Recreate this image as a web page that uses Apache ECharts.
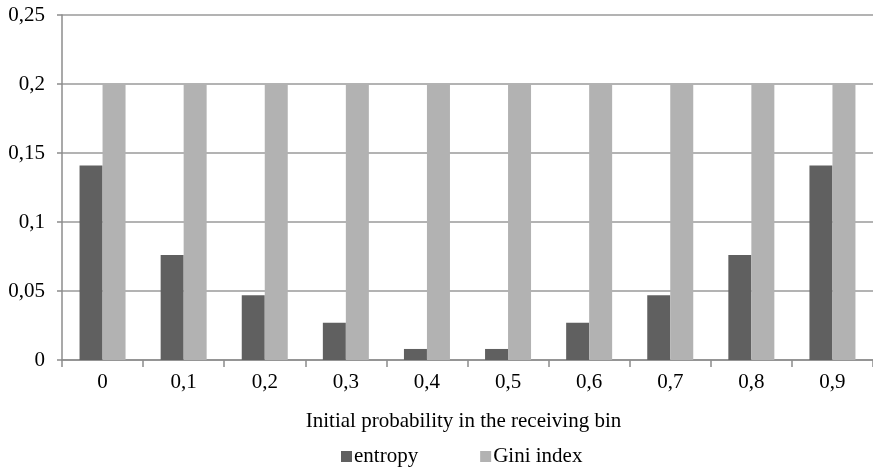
<!DOCTYPE html>
<html>
<head>
<meta charset="utf-8">
<script src="https://cdn.jsdelivr.net/npm/echarts@6/dist/echarts.min.js"></script>
<style>
html, body { margin: 0; padding: 0; background: #fff; }
#chart { width: 873px; height: 469px; }
</style>
</head>
<body>
<div id="chart"></div>
<script>
const categories = ['0', '0,1', '0,2', '0,3', '0,4', '0,5', '0,6', '0,7', '0,8', '0,9'];
const entropy = [0.141, 0.076, 0.047, 0.027, 0.008, 0.008, 0.027, 0.047, 0.076, 0.141];
const gini = [0.2, 0.2, 0.2, 0.2, 0.2, 0.2, 0.2, 0.2, 0.2, 0.2];
const seriesNames = ['entropy', 'Gini index'];
const xAxisTitle = 'Initial probability in the receiving bin';

const FONT = 'Liberation Serif';
const FS = 21;
const chart = echarts.init(document.getElementById('chart'), null, { renderer: 'canvas' });
chart.setOption({
  animation: false,
  backgroundColor: '#ffffff',
  textStyle: { fontFamily: FONT, color: '#000' },
  grid: { left: 62, right: 0, top: 15, bottom: 109, containLabel: false },
  legend: {
    top: 446,
    left: 341,
    padding: 0,
    itemWidth: 11,
    itemHeight: 11,
    itemGap: 62,
    icon: 'rect',
    textStyle: { fontFamily: FONT, fontSize: FS, color: '#000', padding: [0, 0, 0, -3] },
    data: seriesNames
  },
  xAxis: {
    type: 'category',
    data: categories,
    name: xAxisTitle,
    nameLocation: 'middle',
    nameGap: 51,
    nameTextStyle: { fontFamily: FONT, fontSize: FS, color: '#000', padding: [0, 8, 0, 0] },
    axisLine: { lineStyle: { color: '#8c8c8c', width: 1.5 } },
    axisTick: { show: true, length: 7, lineStyle: { color: '#8c8c8c', width: 1.5 } },
    axisLabel: { fontFamily: FONT, fontSize: FS, color: '#000', margin: 12 },
    splitLine: { show: false }
  },
  yAxis: {
    type: 'value',
    min: 0,
    max: 0.25,
    interval: 0.05,
    axisLine: { show: true, lineStyle: { color: '#8c8c8c', width: 1.5 } },
    axisTick: { show: true, length: 5, lineStyle: { color: '#8c8c8c', width: 1.5 } },
    axisLabel: {
      fontFamily: FONT, fontSize: FS, color: '#000', margin: 17,
      formatter: v => String(+v.toFixed(2)).replace('.', ',')
    },
    splitLine: { show: true, lineStyle: { color: '#9a9a9a', width: 1.5 } }
  },
  series: [
    {
      name: seriesNames[0], type: 'bar', data: entropy,
      barWidth: 23, barGap: '0%',
      itemStyle: { color: '#606060' }
    },
    {
      name: seriesNames[1], type: 'bar', data: gini,
      barWidth: 23, barGap: '0%',
      itemStyle: { color: '#b2b2b2' }
    }
  ]
});
</script>
</body>
</html>
